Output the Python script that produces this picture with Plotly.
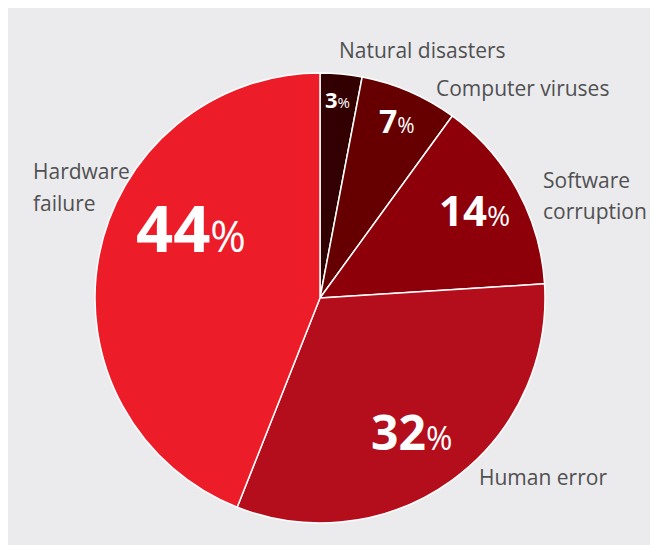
import plotly.graph_objects as go

labels = ["Natural disasters", "Computer viruses", "Software corruption", "Human error", "Hardware failure"]
label_lines = [["Natural disasters"], ["Computer viruses"], ["Software", "corruption"], ["Human error"], ["Hardware", "failure"]]
values = [3, 7, 14, 32, 44]
colors = ["#320000", "#660000", "#8d0009", "#b40d1b", "#ed1c29"]

W, H = 650, 537   # page body has an 8px margin
OFF = 8

def px(x):
    return (x - OFF) / W

def py(y):
    return 1 - (y - OFF) / H

fig = go.Figure()
fig.add_trace(go.Pie(
    labels=labels, values=values, textinfo="none",
    marker=dict(colors=colors, line=dict(color="white", width=1.5)),
    sort=False, direction="clockwise", rotation=0,
    domain=dict(x=[px(95), px(545)], y=[py(523), py(73)]),
    showlegend=False, hoverinfo="label+percent",
))

# percentage labels inside slices
pct_pos = [(337, 99), (397, 121), (474, 210), (412, 431), (191, 227)]
pct_size = [22, 32, 42, 48, 65]
for v, (x, y), s in zip(values, pct_pos, pct_size):
    fig.add_annotation(x=px(x), y=py(y), xref="paper", yref="paper",
                       text=f"<b>{v}</b><span style='font-size:{round(s*0.66)}px'>%</span>",
                       showarrow=False, xanchor="center", yanchor="middle",
                       font=dict(family="Open Sans", size=s, color="white"))

# outside category labels
label_pos = [[(422, 50)], [(522, 88)], [(541, 180), (541, 211)], [(543, 477)], [(31, 171), (31, 203)]]
label_anchor = ["center", "center", "left", "center", "left"]
for lines, poss, al in zip(label_lines, label_pos, label_anchor):
    for t, (x, y) in zip(lines, poss):
        fig.add_annotation(x=px(x), y=py(y), xref="paper", yref="paper", text=t,
                           showarrow=False, xanchor=al, yanchor="middle",
                           font=dict(family="Open Sans", size=21, color="#505052"))

fig.update_layout(width=W, height=H, margin=dict(l=0, r=0, t=0, b=0),
                  paper_bgcolor="#ebebed")
fig.write_html("out.html")
